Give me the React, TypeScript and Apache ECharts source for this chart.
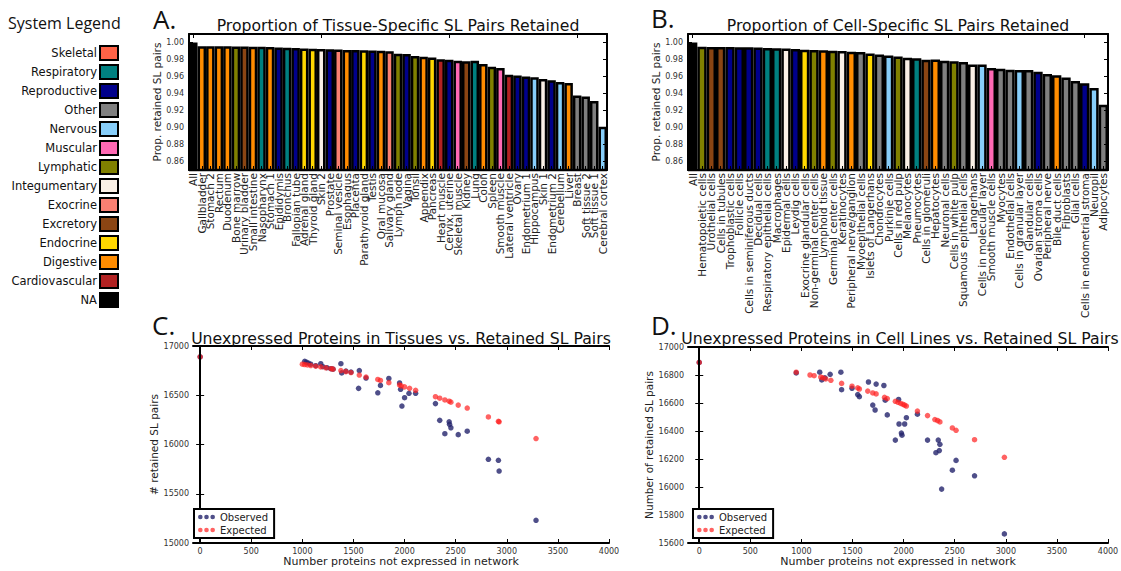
import React, { useEffect, useRef } from 'react';
import * as echarts from 'echarts';

const systemNames = ['Skeletal', 'Respiratory', 'Reproductive', 'Other', 'Nervous', 'Muscular', 'Lymphatic', 'Integumentary', 'Exocrine', 'Excretory', 'Endocrine', 'Digestive', 'Cardiovascular', 'NA'];
const systemColors = ['#ff6347', '#008080', '#00008b', '#808080', '#87cefa', '#ff69b4', '#808000', '#faf0e6', '#fa8072', '#8b4513', '#ffd700', '#ff8c00', '#b22222', '#000000'];

const tissueNames = ['All', 'Gallbladder', 'Stomach 2', 'Rectum', 'Duodenum', 'Bone marrow', 'Urinary bladder', 'Small intestine', 'Nasopharynx', 'Stomach 1', 'Epididymis', 'Bronchus', 'Fallopian tube', 'Adrenal gland', 'Thyroid gland', 'Skin 2', 'Prostate', 'Seminal vesicle', 'Esophagus', 'Placenta', 'Parathyroid gland', 'Testis', 'Oral mucosa', 'Salivary gland', 'Lymph node', 'Vagina', 'Tonsil', 'Appendix', 'Pancreas', 'Heart muscle', 'Cervix, uterine', 'Skeletal muscle', 'Kidney', 'Lung', 'Colon', 'Spleen', 'Smooth muscle', 'Lateral ventricle', 'Ovary', 'Endometrium 1', 'Hippocampus', 'Skin 1', 'Endometrium 2', 'Cerebellum', 'Liver', 'Breast', 'Soft tissue 2', 'Soft tissue 1', 'Cerebral cortex'];
const tissueValues = [1.0, 0.9956, 0.9956, 0.9955, 0.9955, 0.9954, 0.9953, 0.9951, 0.995, 0.9947, 0.994, 0.9937, 0.9934, 0.993, 0.9926, 0.9924, 0.992, 0.9917, 0.9913, 0.9911, 0.9908, 0.9905, 0.9902, 0.9896, 0.9868, 0.9866, 0.984, 0.9832, 0.9824, 0.9804, 0.9798, 0.9786, 0.978, 0.9784, 0.9748, 0.9716, 0.970, 0.962, 0.9612, 0.960, 0.9592, 0.957, 0.9556, 0.9536, 0.9524, 0.9376, 0.9364, 0.9312, 0.9008];
const tissueSystems = ['NA', 'Digestive', 'Digestive', 'Digestive', 'Digestive', 'Lymphatic', 'Excretory', 'Digestive', 'Respiratory', 'Digestive', 'Reproductive', 'Respiratory', 'Reproductive', 'Endocrine', 'Endocrine', 'Integumentary', 'Reproductive', 'Exocrine', 'Digestive', 'Reproductive', 'Endocrine', 'Reproductive', 'Digestive', 'Exocrine', 'Lymphatic', 'Reproductive', 'Lymphatic', 'Digestive', 'Endocrine', 'Cardiovascular', 'Reproductive', 'Muscular', 'Excretory', 'Respiratory', 'Digestive', 'Lymphatic', 'Muscular', 'Cardiovascular', 'Reproductive', 'Reproductive', 'Nervous', 'Integumentary', 'Reproductive', 'Nervous', 'Digestive', 'Other', 'Other', 'Other', 'Nervous'];

const cellNames = ['All', 'Hematopoietic cells', 'Urothelial cells', 'Cells in tubules', 'Trophoblastic cells', 'Follicle cells', 'Cells in seminiferous ducts', 'Decidual cells', 'Respiratory epithelial cells', 'Macrophages', 'Epidermal cells', 'Leydig cells', 'Exocrine glandular cells', 'Non-germinal center cells', 'Lymphoid tissue', 'Germinal center cells', 'Keratinocytes', 'Peripheral nerve/ganglion', 'Myoepithelial cells', 'Islets of Langerhans', 'Chondrocytes', 'Purkinje cells', 'Cells in red pulp', 'Melanocytes', 'Pneumocytes', 'Cells in glomeruli', 'Hepatocytes', 'Neuronal cells', 'Cells in white pulp', 'Squamous epithelial cells', 'Langerhans', 'Cells in molecular layer', 'Smooth muscle cells', 'Myocytes', 'Endothelial cells', 'Cells in granular layer', 'Glandular cells', 'Ovarian stroma cells', 'Peripheral nerve', 'Bile duct cells', 'Fibroblasts', 'Glial cells', 'Cells in endometrial stroma', 'Neuropil', 'Adipocytes'];
const cellValues = [1.0, 0.9949, 0.9948, 0.9947, 0.9946, 0.9944, 0.9943, 0.994, 0.9936, 0.9932, 0.9928, 0.9924, 0.9916, 0.9912, 0.9908, 0.9904, 0.990, 0.9892, 0.9888, 0.987, 0.9858, 0.9848, 0.9836, 0.982, 0.9816, 0.9798, 0.980, 0.9784, 0.978, 0.9772, 0.974, 0.974, 0.970, 0.9692, 0.968, 0.9676, 0.9676, 0.9656, 0.9628, 0.9616, 0.9588, 0.9548, 0.952, 0.9464, 0.9268];
const cellSystems = ['NA', 'Lymphatic', 'Excretory', 'Excretory', 'Reproductive', 'Reproductive', 'Reproductive', 'Reproductive', 'Respiratory', 'Respiratory', 'Integumentary', 'Reproductive', 'Endocrine', 'Lymphatic', 'Digestive', 'Lymphatic', 'Integumentary', 'Digestive', 'Other', 'Endocrine', 'Other', 'Nervous', 'Lymphatic', 'Integumentary', 'Respiratory', 'Excretory', 'Digestive', 'Other', 'Lymphatic', 'Other', 'Integumentary', 'Nervous', 'Muscular', 'Other', 'Other', 'Nervous', 'Other', 'Reproductive', 'Other', 'Digestive', 'Other', 'Other', 'Reproductive', 'Nervous', 'Other'];

const propTicks = [0.86, 0.88, 0.9, 0.92, 0.94, 0.96, 0.98, 1.0];
const proteinTicks = [0, 500, 1000, 1500, 2000, 2500, 3000, 3500, 4000];

const tissueObserved = [
  [0, 16890], [1023, 16845], [1040, 16835], [1060, 16825], [1082, 16815], [1131, 16800], [1180, 16820], [1200, 16790], [1240, 16780], [1279, 16770], [1300, 16765], [1377, 16820], [1385, 16727], [1426, 16745], [1476, 16735], [1557, 16750], [1550, 16570], [1623, 16675], [1738, 16525], [1764, 16600], [1846, 16670], [1951, 16625], [1961, 16560], [1974, 16390], [2000, 16475], [2043, 16520], [2108, 16520], [2302, 16415], [2344, 16245], [2436, 16230], [2440, 16205], [2453, 16170], [2394, 16110], [2525, 16100], [2613, 16135], [2820, 15850], [2918, 15840], [2925, 15730], [3286, 15230]
];
const tissueExpected = [
  [0, 16890], [1000, 16815], [1023, 16812], [1049, 16808], [1082, 16802], [1131, 16795], [1180, 16788], [1230, 16779], [1279, 16770], [1300, 16765], [1377, 16750], [1426, 16740], [1476, 16730], [1557, 16705], [1623, 16685], [1738, 16660], [1764, 16650], [1846, 16628], [1951, 16605], [1967, 16595], [2000, 16585], [2049, 16570], [2108, 16550], [2302, 16485], [2344, 16470], [2394, 16452], [2436, 16440], [2453, 16430], [2525, 16400], [2613, 16370], [2820, 16280], [2918, 16235], [2925, 16230], [3286, 16060]
];
const cellObserved = [
  [0, 16890], [949, 16815], [1179, 16820], [1199, 16765], [1230, 16780], [1281, 16805], [1386, 16820], [1393, 16695], [1495, 16705], [1551, 16660], [1567, 16645], [1656, 16750], [1731, 16735], [1698, 16585], [1721, 16550], [1807, 16725], [1820, 16620], [1840, 16515], [1919, 16335], [1951, 16625], [1955, 16450], [1978, 16385], [1984, 16370], [2010, 16450], [2027, 16495], [2135, 16520], [2234, 16335], [2339, 16335], [2355, 16305], [2316, 16245], [2349, 16260], [2372, 15985], [2477, 16120], [2513, 16190], [2694, 16080], [2986, 15665]
];
const cellExpected = [
  [0, 16890], [949, 16820], [1084, 16800], [1124, 16795], [1189, 16785], [1210, 16780], [1238, 16772], [1288, 16762], [1393, 16740], [1495, 16720], [1551, 16708], [1567, 16700], [1649, 16685], [1698, 16672], [1731, 16665], [1813, 16640], [1840, 16632], [1919, 16612], [1945, 16605], [1971, 16597], [1994, 16590], [2010, 16585], [2027, 16578], [2135, 16542], [2234, 16510], [2306, 16482], [2332, 16475], [2355, 16465], [2477, 16422], [2513, 16405], [2694, 16338], [2986, 16212]
];

const FONT = 'DejaVu Sans';
const colorOf = (s: string) => systemColors[systemNames.indexOf(s)];
const frameLine = { show: true, lineStyle: { color: '#000', width: 2 } };
const tick = (extra: any = {}) => ({ show: true, inside: true, length: 4, lineStyle: { color: '#000', width: 1 }, ...extra });
const threeDots = 'path://M0,2.25a2.25,2.25 0 1,0 4.5,0a2.25,2.25 0 1,0 -4.5,0M6,2.25a2.25,2.25 0 1,0 4.5,0a2.25,2.25 0 1,0 -4.5,0M12,2.25a2.25,2.25 0 1,0 4.5,0a2.25,2.25 0 1,0 -4.5,0';

function catX(grid: number, data: string[], bottom: boolean) {
  return {
    gridIndex: grid, type: 'category', data, position: bottom ? 'bottom' : 'top', z: 10,
    axisLine: frameLine,
    axisTick: tick({ alignWithLabel: true }),
    axisLabel: bottom ? { show: true, interval: 0, rotate: 90, fontSize: 10.5, fontFamily: FONT, color: '#222', margin: 3 } : { show: false },
    splitLine: { show: false },
  };
}
function propY(grid: number, left: boolean, gap: number) {
  return {
    gridIndex: grid, type: 'value', min: 0.85, max: 1.01, position: left ? 'left' : 'right', z: 10,
    axisLine: frameLine,
    axisTick: tick({ customValues: propTicks }),
    axisLabel: left ? { show: true, customValues: propTicks, fontSize: 8, fontFamily: FONT, color: '#333', margin: 5, formatter: (v: number) => v.toFixed(2) } : { show: false },
    splitLine: { show: false },
    name: left ? 'Prop. retained SL pairs' : '', nameLocation: 'middle', nameGap: gap,
    nameTextStyle: { fontSize: 10.5, fontFamily: FONT, color: '#222' },
  };
}
function protX(grid: number, bottom: boolean, min: number) {
  return {
    gridIndex: grid, type: 'value', min, max: 4000, position: bottom ? 'bottom' : 'top', z: 10,
    axisLine: frameLine,
    axisTick: tick({ customValues: proteinTicks }),
    axisLabel: bottom ? { show: true, customValues: proteinTicks, fontSize: 8, fontFamily: FONT, color: '#333', margin: 4, formatter: (v: number) => String(v) } : { show: false },
    splitLine: { show: false },
    name: bottom ? 'Number proteins not expressed in network' : '', nameLocation: 'middle', nameGap: 11,
    nameTextStyle: { fontSize: 11, fontFamily: FONT, color: '#222' },
  };
}
function countY(grid: number, left: boolean, min: number, interval: number, name: string, gap: number) {
  return {
    gridIndex: grid, type: 'value', min, max: 17000, interval, position: left ? 'left' : 'right', z: 10,
    axisLine: frameLine,
    axisTick: tick(),
    axisLabel: left ? { show: true, fontSize: 8, fontFamily: FONT, color: '#333', margin: 4, formatter: (v: number) => String(v) } : { show: false },
    splitLine: { show: false },
    name: left ? name : '', nameLocation: 'middle', nameGap: gap,
    nameTextStyle: { fontSize: 10.5, fontFamily: FONT, color: '#222' },
  };
}
function bars(names: string[], values: number[], systems: string[], axis: number) {
  return {
    type: 'bar', xAxisIndex: axis, yAxisIndex: axis, barCategoryGap: '0%', clip: true,
    data: values.map((v, i) => ({ value: v, name: names[i], itemStyle: { color: colorOf(systems[i]) } })),
    itemStyle: { borderColor: '#000', borderWidth: 2.5 },
  };
}
function scatter(name: string, data: number[][], axis: number, color: string, opacity: number) {
  return { type: 'scatter', name, xAxisIndex: axis, yAxisIndex: axis, data, symbolSize: 5.5, itemStyle: { color, opacity } };
}
function legendAt(left: number, top: number) {
  return {
    data: ['Observed', 'Expected'], orient: 'vertical', left, top, icon: threeDots, itemWidth: 17, itemHeight: 5,
    itemGap: 3, padding: [3, 6, 3, 4], borderColor: '#000', borderWidth: 2, backgroundColor: '#fff', selectedMode: false,
    textStyle: { fontSize: 10, fontFamily: FONT, color: '#222' }, z: 20,
  };
}
function text(x: number, y: number, t: string, font: string, align = 'center') {
  return { type: 'text', x, y, z: 30, style: { text: t, font, fill: '#111', align, verticalAlign: 'middle' } };
}

export default function App() {
  const ref = useRef<HTMLDivElement>(null);
  useEffect(() => {
    document.body.style.margin = '0';
    const chart = echarts.init(ref.current!, null, { renderer: 'svg' });
    const legendEls: any[] = [];
    systemNames.forEach((n, i) => {
      legendEls.push({ type: 'rect', z: 30, shape: { x: 100, y: 46 + 19 * i, width: 18, height: 14 }, style: { fill: systemColors[i], stroke: '#000', lineWidth: 2 } });
      legendEls.push(text(97, 53 + 19 * i, n, `11.5px "${FONT}"`, 'right'));
    });
    chart.setOption({
      animation: false,
      backgroundColor: '#fff',
      grid: [
        { left: 189, top: 34, width: 418, height: 136, outerBoundsMode: 'none' },
        { left: 688, top: 34, width: 420, height: 136, outerBoundsMode: 'none' },
        { left: 193, top: 346, width: 416, height: 197, outerBoundsMode: 'none' },
        { left: 688, top: 347, width: 420, height: 196, outerBoundsMode: 'none' },
      ],
      xAxis: [
        catX(0, tissueNames, true), catX(0, tissueNames, false),
        catX(1, cellNames, true), catX(1, cellNames, false),
        protX(2, true, -70), protX(2, false, -70),
        protX(3, true, -110), protX(3, false, -110),
      ],
      yAxis: [
        propY(0, true, 26), propY(0, false, 0),
        propY(1, true, 22), propY(1, false, 0),
        countY(2, true, 15000, 500, '# retained SL pairs', 33), countY(2, false, 15000, 500, '', 0),
        countY(3, true, 15600, 200, 'Number of retained SL pairs', 30), countY(3, false, 15600, 200, '', 0),
      ],
      legend: [legendAt(194, 509), legendAt(693, 509)],
      series: [
        bars(tissueNames, tissueValues, tissueSystems, 0),
        bars(cellNames, cellValues, cellSystems, 2),
        scatter('Observed', tissueObserved, 4, '#23236b', 0.8),
        scatter('Expected', tissueExpected, 4, '#ff2020', 0.7),
        scatter('Observed', cellObserved, 6, '#23236b', 0.8),
        scatter('Expected', cellExpected, 6, '#ff2020', 0.7),
      ],
      graphic: {
        elements: [
          text(8, 23, 'System Legend', '16px "Open Sans"', 'left'),
          ...legendEls,
          text(153, 19, 'A.', '26px "Open Sans"', 'left'),
          text(651, 18, 'B.', '26px "Open Sans"', 'left'),
          text(152, 325, 'C.', '26px "Open Sans"', 'left'),
          text(651, 325, 'D.', '26px "Open Sans"', 'left'),
          text(398, 25, 'Proportion of Tissue-Specific SL Pairs Retained', `15.7px "${FONT}"`),
          text(898, 25, 'Proportion of Cell-Specific SL Pairs Retained', `15.7px "${FONT}"`),
          text(401, 338, 'Unexpressed Proteins in Tissues vs. Retained SL Pairs', `15.7px "${FONT}"`),
          text(900, 338, 'Unexpressed Proteins in Cell Lines vs. Retained SL Pairs', `15.7px "${FONT}"`),
        ],
      },
    });
    return () => chart.dispose();
  }, []);
  return <div ref={ref} style={{ width: 1121, height: 571 }} />;
}
